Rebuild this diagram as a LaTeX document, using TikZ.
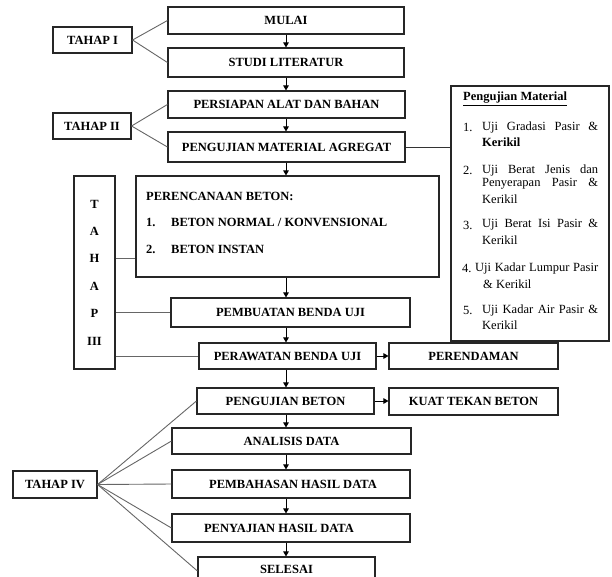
\documentclass[tikz,border=0pt]{standalone}
\usepackage{fontspec}
\setmainfont{Liberation Serif}
\usetikzlibrary{arrows.meta,calc}
\begin{document}
\begin{tikzpicture}[x=1pt,y=-1pt,
  box/.style={draw=black!85,line width=1.1pt,inner sep=0pt,fill=white,
    font=\fontsize{12.5}{15}\selectfont\bfseries},
  arr/.style={draw=black,line width=1pt,-{Triangle[length=5pt,width=5.5pt]}},
  tline/.style={draw=black!60,line width=0.9pt},
  mtxt/.style={inner sep=0pt,anchor=west,font=\fontsize{12.5}{15}\selectfont},
  btxt/.style={inner sep=0pt,anchor=west,font=\fontsize{12.5}{15}\selectfont\bfseries}]
\useasboundingbox (0,0) rectangle (612,576);
\clip (0,0) rectangle (612,576);

\coordinate (ax) at (286,0);

% boxes
\node[box,minimum width=79pt,minimum height=26pt] (tahap1) at (92.5,40) {TAHAP I};
\node[box,minimum width=236pt,minimum height=27pt] (mulai) at (286,20.5) {MULAI};
\node[box,minimum width=236pt,minimum height=29pt] (studi) at (286,62.5) {STUDI LITERATUR};
\node[box,minimum width=237pt,minimum height=27pt] (persiapan) at (286.5,104.5) {PERSIAPAN ALAT DAN BAHAN};
\node[box,minimum width=237pt,minimum height=30pt] (pma) at (286.5,147) {PENGUJIAN MATERIAL AGREGAT};
\node[box,minimum width=78pt,minimum height=26pt] (tahap2) at (92,126) {TAHAP II};
\node[box,minimum width=158pt,minimum height=255pt] (matbox) at (530,213.5) {};
\node[box,minimum width=41pt,minimum height=193pt,align=center,
  font=\fontsize{12.5}{27.4}\selectfont\bfseries] (tahap3) at (94.5,272.5) {T\\A\\H\\A\\P\\III};
\node[box,minimum width=303pt,minimum height=101pt] (perenc) at (287.5,226.5) {};
\node[box,minimum width=239pt,minimum height=29pt] (pembuatan) at (290.5,312.5) {PEMBUATAN BENDA UJI};
\node[box,minimum width=177pt,minimum height=26pt] (perawatan) at (287.5,356) {PERAWATAN BENDA UJI};
\node[box,minimum width=169pt,minimum height=26pt] (perendaman) at (473.5,356) {PERENDAMAN};
\node[box,minimum width=177pt,minimum height=26pt] (pbeton) at (285.5,401) {PENGUJIAN BETON};
\node[box,minimum width=169pt,minimum height=27pt] (kuat) at (473.5,401.5) {KUAT TEKAN BETON};
\node[box,minimum width=239pt,minimum height=26pt] (analisis) at (291.5,441) {ANALISIS DATA};
\node[box,minimum width=238pt,minimum height=28pt] (pembahasan) at (291,484) {PEMBAHASAN HASIL DATA\hspace*{-4pt}};
\node[box,minimum width=238pt,minimum height=28pt] (penyajian) at (291,528) {PENYAJIAN HASIL DATA\hspace*{24pt}};
\node[box,minimum width=177pt,minimum height=28pt] (selesai) at (286.5,571) {\raisebox{3.5pt}{SELESAI}};
\node[box,minimum width=84pt,minimum height=27pt] (tahap4) at (55,484.5) {TAHAP IV};

\draw[line width=1.7pt,black!85] (pembahasan.north west) -- (pembahasan.north east);

% stage connectors
\draw[tline] (tahap1.east) -- (mulai.west);
\draw[tline] (tahap1.east) -- (studi.west);
\draw[tline] (tahap2.east) -- (persiapan.west);
\draw[tline] (tahap2.east) -- (pma.west);
\coordinate (p3) at ([yshift=-31.5pt]perenc.west);
\draw[tline] (tahap3.east |- p3) -- (p3);
\draw[tline] (tahap3.east |- pembuatan.west) -- (pembuatan.west);
\draw[tline] (tahap3.east |- perawatan.west) -- (perawatan.west);
\draw[tline] (tahap4.east) -- (pbeton.west);
\draw[tline] (tahap4.east) -- (analisis.west);
\draw[tline] (tahap4.east) -- (pembahasan.west);
\draw[tline] (tahap4.east) -- (penyajian.west);
\draw[tline] (tahap4.east) -- (selesai.west);
\draw[draw=black!80,line width=0.9pt] (pma.east) -- (pma.east -| matbox.west);

% flow arrows
\draw[arr] (mulai.south -| ax) -- (studi.north -| ax);
\draw[arr] (studi.south -| ax) -- (persiapan.north -| ax);
\draw[arr] (persiapan.south -| ax) -- (pma.north -| ax);
\draw[arr] (pma.south -| ax) -- (perenc.north -| ax);
\draw[arr] (perenc.south -| ax) -- (pembuatan.north -| ax);
\draw[arr] (pembuatan.south -| ax) -- (perawatan.north -| ax);
\draw[arr] (perawatan.south -| ax) -- (pbeton.north -| ax);
\draw[arr] (pbeton.south -| ax) -- (analisis.north -| ax);
\draw[arr] (analisis.south -| ax) -- (pembahasan.north -| ax);
\draw[arr] (pembahasan.south -| ax) -- (penyajian.north -| ax);
\draw[arr] (penyajian.south -| ax) -- (selesai.north -| ax);
\draw[arr] (perawatan.east) -- (perendaman.west);
\draw[arr] (pbeton.east) -- (pbeton.east -| kuat.west);

% perencanaan text
\node[btxt] (pt0) at (146,196) {PERENCANAAN BETON:};
\node[btxt] (pt1n) at (146,222) {1.};
\node[btxt] (pt1) at (171,222) {BETON NORMAL / KONVENSIONAL};
\node[btxt] (pt2n) at (146,249) {2.};
\node[btxt] (pt2) at (171,249) {BETON INSTAN};

% material box text
\node[mtxt] (mh) at (463,99) {\textbf{\underline{Pengujian Material}}};
\node[mtxt] (m1n) at (463,127) {1.};
\node[mtxt] (m1a) at (482,127) {\makebox[116pt][s]{Uji Gradasi Pasir \&}};
\node[mtxt] (m1b) at (482,142) {\textbf{Kerikil}};
\node[mtxt] (m2n) at (463,170) {2.};
\node[mtxt] (m2a) at (482,170) {\makebox[116pt][s]{Uji Berat Jenis dan}};
\node[mtxt] (m2b) at (482,184) {\makebox[116pt][s]{Penyerapan Pasir \&}};
\node[mtxt] (m2c) at (482,199) {Kerikil};
\node[mtxt] (m3n) at (463,225) {3.};
\node[mtxt] (m3a) at (482,225) {\makebox[116pt][s]{Uji Berat Isi Pasir \&}};
\node[mtxt] (m3b) at (482,240) {Kerikil};
\node[mtxt] (m4n) at (462,268) {4.};
\node[mtxt] (m4a) at (475,268) {\makebox[123pt][s]{Uji Kadar Lumpur Pasir}};
\node[mtxt] (m4b) at (483,284) {\& Kerikil};
\node[mtxt] (m5n) at (463,310) {5.};
\node[mtxt] (m5a) at (482,310) {\makebox[116pt][s]{Uji Kadar Air Pasir \&}};
\node[mtxt] (m5b) at (482,325) {Kerikil};
\end{tikzpicture}
\end{document}
